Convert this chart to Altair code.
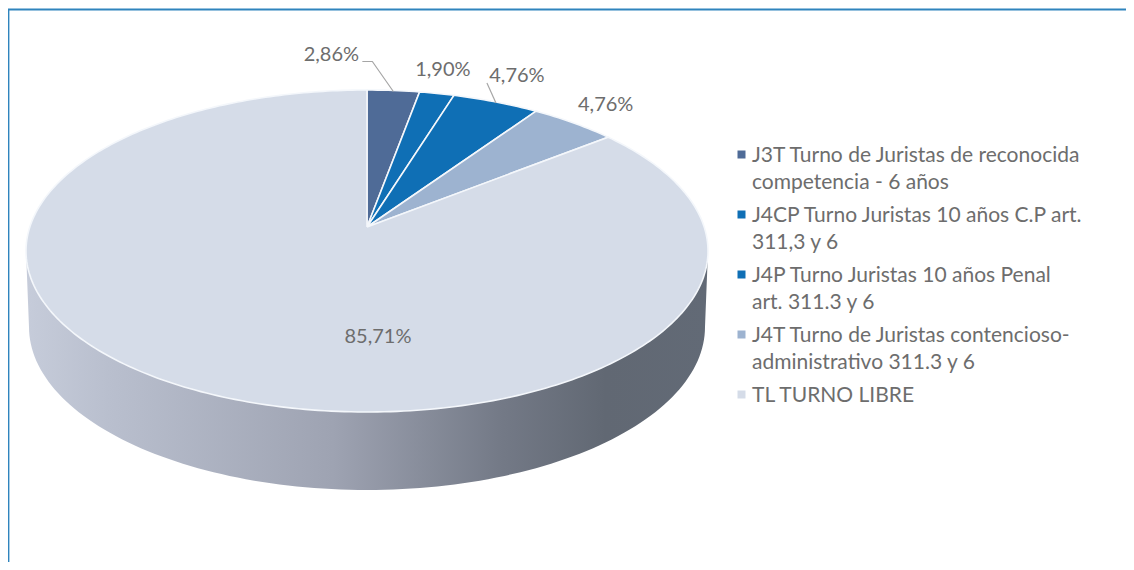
import math
import altair as alt
import pandas as pd

# ---- values ----
categories = [
    "J3T Turno de Juristas de reconocida|competencia - 6 años",
    "J4CP Turno Juristas 10 años C.P art.|311,3 y 6",
    "J4P Turno Juristas 10 años Penal|art. 311.3 y 6",
    "J4T Turno de Juristas contencioso-|administrativo 311.3 y 6",
    "TL TURNO LIBRE",
]
shares = [2.86, 1.90, 4.76, 4.76, 85.71]
share_labels = ["2,86%", "1,90%", "4,76%", "4,76%", "85,71%"]
slice_colors = ["#4f6b97", "#0f6fb5", "#0f6fb5", "#9db3d0", "#d5dce8"]

# ---- layout / styling (pixels of the 1134x570 picture) ----
W, H = 1118, 554
CX, CY, RX, RY, APEX_DY = 367, 251, 341, 161, 24
BOTTOM_CY, BOTTOM_RX, BOTTOM_RY = 327, 338, 163
FONT = "Lato"
TEXT = "#6d6d6d"
PERSP = 2 * APEX_DY / (2 * RY)
K = RX * math.sqrt(1 - PERSP ** 2)


def rim(t):
    """Perspective view of a unit circle: t runs clockwise from 12 o'clock."""
    u, v = math.sin(t), math.cos(t)
    d = 1 + PERSP * v
    return CX + K * u / d, CY - (APEX_DY + RY * v) / d


apex = (CX, CY - APEX_DY)
rows = []
total = sum(shares)
cum = 0.0
mids = []
for cat, s in zip(categories, shares):
    a0 = cum / total * 2 * math.pi
    cum += s
    a1 = cum / total * 2 * math.pi
    mids.append(rim((a0 + a1) / 2))
    n = max(3, int((a1 - a0) * 60))
    pts = [apex] + [rim(a0 + (a1 - a0) * i / n) for i in range(n + 1)] + [apex]
    rows += [{"cat": cat, "x": x, "y": y, "o": i} for i, (x, y) in enumerate(pts)]
slices_df = pd.DataFrame(rows)

side = []
for i in range(0, 121):
    a = math.pi * i / 120
    side.append((CX - BOTTOM_RX * math.cos(a), BOTTOM_CY + BOTTOM_RY * math.sin(a)))
for i in range(0, 121):
    a = math.pi * i / 120
    side.append((CX + RX * math.cos(a), CY))
side.append(side[0])
side_df = pd.DataFrame([{"x": x, "y": y, "o": i} for i, (x, y) in enumerate(side)])

xs = alt.Scale(domain=[8, 8 + W], range=[0, W])
ys = alt.Scale(domain=[8, 8 + H], range=[0, H])
X = alt.X("x:Q", scale=xs, axis=None)
Y = alt.Y("y:Q", scale=ys, axis=None)

side_mark = alt.Chart(side_df).mark_line(
    strokeWidth=0,
    fill=alt.Gradient(
        gradient="linear", x1=0, x2=1, y1=0, y2=0,
        stops=[
            alt.GradientStop(offset=0, color="#c6ccda"),
            alt.GradientStop(offset=0.12, color="#b9bfce"),
            alt.GradientStop(offset=0.45, color="#9ea3b2"),
            alt.GradientStop(offset=0.70, color="#737986"),
            alt.GradientStop(offset=0.85, color="#616873"),
            alt.GradientStop(offset=1, color="#626a76"),
        ],
    ),
).encode(x=X, y=Y, order="o:Q")

slice_marks = alt.Chart(slices_df).mark_line(stroke="#f4f7fb", strokeWidth=1.6).encode(
    x=X,
    y=Y,
    order="o:Q",
    fill=alt.Fill(
        "cat:N",
        scale=alt.Scale(domain=categories, range=slice_colors),
        legend=alt.Legend(
            title=None,
            orient="none",
            legendX=723,
            legendY=136,
            symbolType="square",
            symbolSize=64,
            symbolStrokeWidth=0,
            symbolOpacity=1,
            labelFont=FONT,
            labelFontSize=21,
            labelColor=TEXT,
            labelLimit=420,
            labelOffset=0,
            labelBaseline="alphabetic",
            labelExpr="split(datum.label, '|')",
            rowPadding=11,
        ),
    ),
)

label_df = pd.DataFrame(
    {"x": [m[0] for m in mids], "y": [m[1] for m in mids], "t": share_labels,
     "dx": [-62, 6, 21, 32, 0], "dy": [-35, -23, -26, -18, 0]}
)
label_df["x"] = label_df["x"] + label_df["dx"]
label_df["y"] = label_df["y"] + label_df["dy"]
label_df.loc[4, "x"] = 378
label_df.loc[4, "y"] = 337
labels = alt.Chart(label_df).mark_text(
    font=FONT, fontSize=20, color=TEXT, align="center", baseline="middle"
).encode(x=X, y=Y, text="t:N")

l1 = mids[0]
l3 = mids[2]
leader_df = pd.DataFrame(
    [
        {"g": "a", "o": 0, "x": l1[0], "y": l1[1] + 1},
        {"g": "a", "o": 1, "x": l1[0] - 21, "y": l1[1] - 29},
        {"g": "a", "o": 2, "x": l1[0] - 31, "y": l1[1] - 29},
        {"g": "b", "o": 0, "x": l3[0], "y": l3[1] + 1},
        {"g": "b", "o": 1, "x": l3[0] - 9, "y": l3[1] - 19},
    ]
)
leaders = alt.Chart(leader_df).mark_line(color="#a6a6a6", strokeWidth=1.2).encode(
    x=X, y=Y, order="o:Q", detail="g:N"
)

border_df = pd.DataFrame(
    [{"g": "t", "o": 0, "x": 8, "y": 9.5}, {"g": "t", "o": 1, "x": 8 + W, "y": 9.5},
     {"g": "l", "o": 0, "x": 8.5, "y": 9.5}, {"g": "l", "o": 1, "x": 8.5, "y": 8 + H}]
)
border = alt.Chart(border_df).mark_line(color="#2f84bd", strokeWidth=1.8).encode(
    x=X, y=Y, order="o:Q", detail="g:N"
)

chart = alt.layer(border, side_mark, slice_marks, leaders, labels).properties(
    width=W, height=H, padding=0, autosize=alt.AutoSizeParams(type="none"),
    config=alt.Config(
        view=alt.ViewConfig(stroke=None),
        style={"guide-label": {"lineHeight": 27, "dy": 7}},
    ),
)

chart.save("out.html", embed_options={"renderer": "svg", "actions": False})
